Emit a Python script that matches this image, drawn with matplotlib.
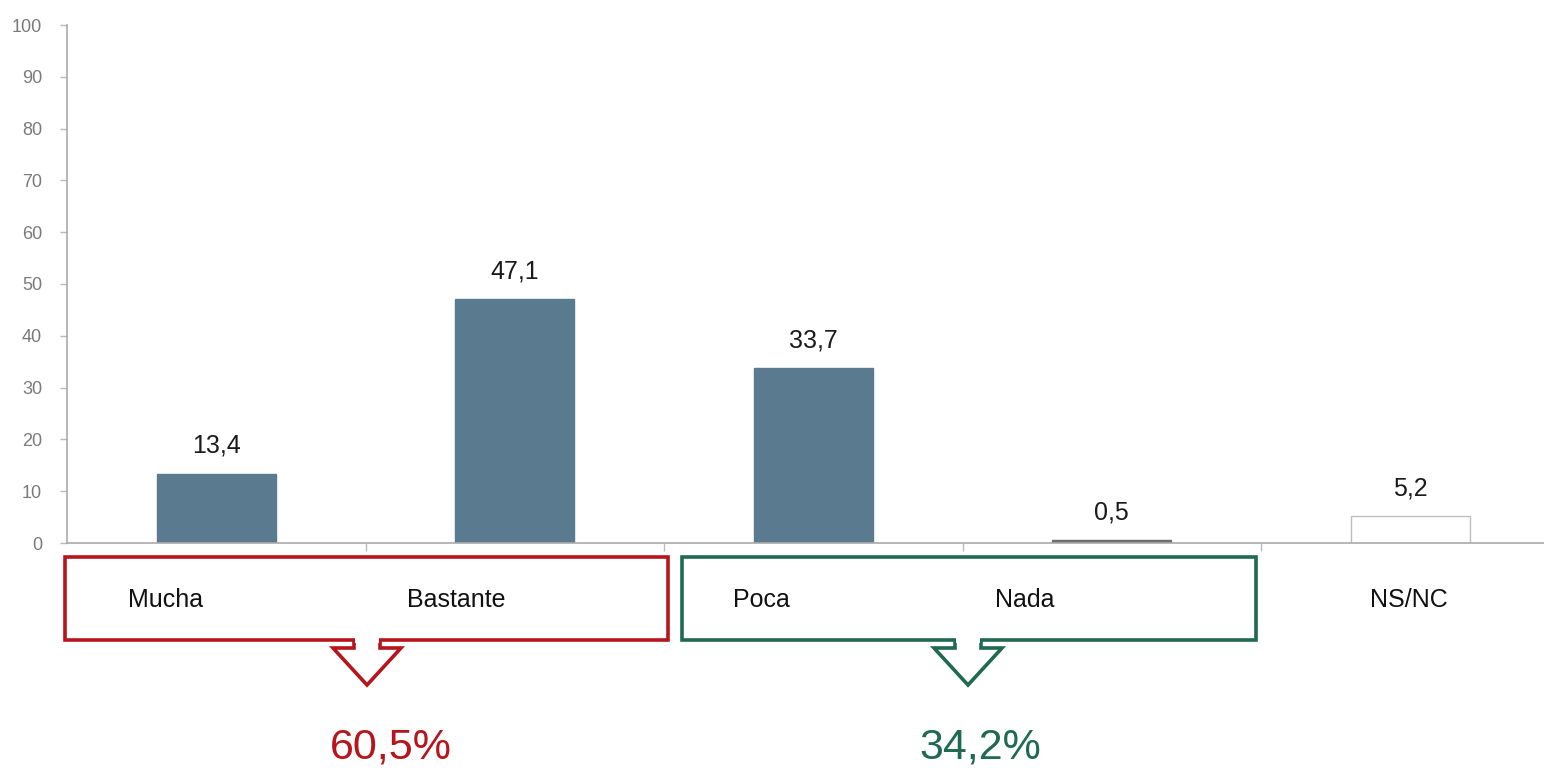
import matplotlib
matplotlib.use("Agg")
import matplotlib.pyplot as plt
import matplotlib.transforms as mtransforms
from matplotlib.patches import Rectangle, Polygon

plt.rcParams['font.family'] = ['Liberation Sans', 'DejaVu Sans']

categories = ["Mucha", "Bastante", "Poca", "Nada", "NS/NC"]
values = [13.4, 47.1, 33.7, 0.5, 5.2]
value_labels = ["13,4", "47,1", "33,7", "0,5", "5,2"]
yticks = [0, 10, 20, 30, 40, 50, 60, 70, 80, 90, 100]
group_totals = ["60,5%", "34,2%"]

W, H = 1544, 779
fig = plt.figure(figsize=(W / 100, H / 100), dpi=100)
fig.patch.set_facecolor("white")

ax_left, ax_right, ax_top, ax_bottom = 67, 1544, 25, 543
cat_w = 298.5
ax = fig.add_axes([ax_left / W, (H - ax_bottom) / H,
                   (ax_right - ax_left) / W, (ax_bottom - ax_top) / H])
ax.set_xlim(-0.5, -0.5 + (ax_right - ax_left) / cat_w)
ax.set_ylim(0, 100)

bar_color = "#5A7B8F"
face = [bar_color, bar_color, bar_color, "#6E6E6E", "white"]
edge = [bar_color, bar_color, bar_color, "#6E6E6E", "#BDBDBD"]
x = list(range(len(categories)))
ax.bar(x, values, width=0.4, color=face, edgecolor=edge, linewidth=1.0)

for xi, v, lab in zip(x, values, value_labels):
    ax.annotate(lab, (xi, v), xytext=(0, 20), textcoords="offset points",
                ha="center", va="center", fontsize=18, color="#1A1A1A")

ax.set_yticks(yticks)
ax.set_yticklabels([str(t) for t in yticks], fontsize=13, color="#7A7A7A")
ax.tick_params(axis="y", length=5, color="#BBBBBB", width=1, pad=13)
ax.set_xticks([0.5, 1.5, 2.5, 3.5])
ax.set_xticklabels([])
ax.tick_params(axis="x", length=6, color="#BBBBBB", width=1, direction="out")
for s in ["top", "right"]:
    ax.spines[s].set_visible(False)
for s in ["left", "bottom"]:
    ax.spines[s].set_color("#AAAAAA")
    ax.spines[s].set_linewidth(1.2)

# figure pixel transform (origin top-left)
pix = mtransforms.Affine2D().scale(1 / W, -1 / H).translate(0, 1) + fig.transFigure

red = "#B8141C"
green = "#1F6A50"

# group boxes
fig.patches.append(Rectangle((65, 557), 603, 83, transform=pix, fill=False,
                             edgecolor=red, linewidth=2.6))
fig.patches.append(Rectangle((682, 557), 574, 83, transform=pix, fill=False,
                             edgecolor=green, linewidth=2.6))

def arrow(cx, color):
    pts = [(cx - 13, 641), (cx - 13, 648), (cx - 34, 648), (cx, 685),
           (cx + 34, 648), (cx + 13, 648), (cx + 13, 641)]
    fig.patches.append(Polygon(pts, closed=False, transform=pix, fill=False,
                               edgecolor=color, linewidth=2.6, joinstyle="miter"))
    fig.patches.append(Rectangle((cx - 12, 638), 24, 5, transform=pix,
                                 facecolor="white", edgecolor="none"))

arrow(367, red)
arrow(968, green)

# category labels
label_pos = [(128, "left"), (407, "left"), (733, "left"), (995, "left"), (1409, "center")]
for name, (px, ha) in zip(categories, label_pos):
    fig.text(px, 600, name, transform=pix, ha=ha, va="center", fontsize=18,
             color="#111111")

fig.text(391, 748, group_totals[0], transform=pix, ha="center", va="center",
         fontsize=31, color=red)
fig.text(980, 748, group_totals[1], transform=pix, ha="center", va="center",
         fontsize=31, color=green)

fig.savefig("out.png", dpi=100)
